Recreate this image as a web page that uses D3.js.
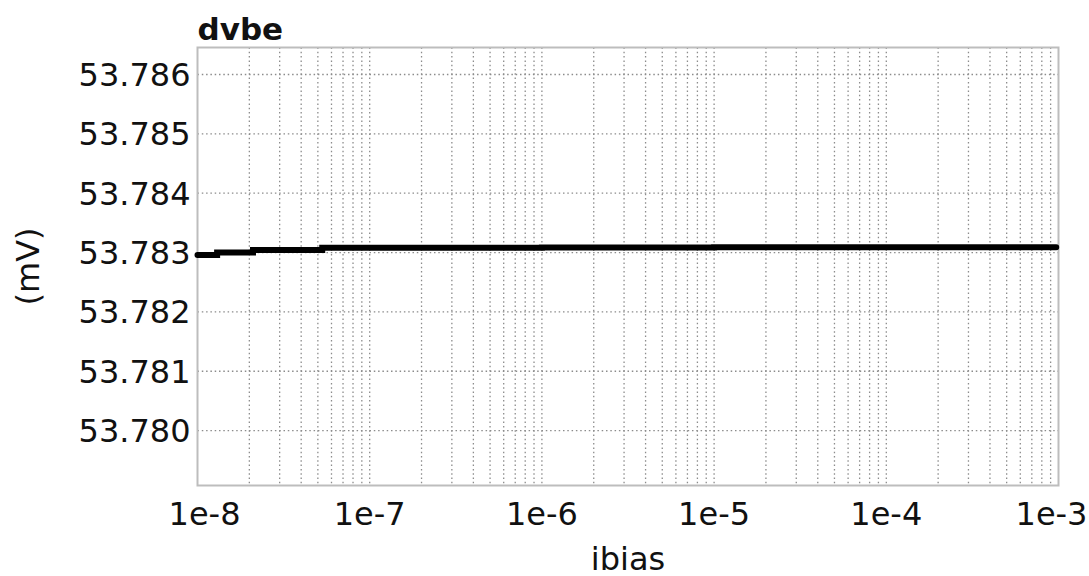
<!DOCTYPE html>
<html>
<head>
<meta charset="utf-8">
<script src="https://cdn.jsdelivr.net/npm/d3@7"></script>
<style>
  body { margin: 0; background: #fff; }
  text { font-family: "DejaVu Sans", sans-serif; fill: #111; }
  .grid line { stroke: #8c8c8c; stroke-width: 1.3; stroke-dasharray: 1.5,2.8; }
</style>
</head>
<body>
<svg id="chart"></svg>
<script>
//data
const ibias = [1e-8, 1.3e-8, 2.1e-8, 5.3e-8, 1e-7, 1e-6, 1e-5, 1e-4, 9.7e-4];
const dvbe = [53.78296, 53.78300, 53.783045, 53.78308, 53.78308, 53.783085, 53.783088, 53.78309, 53.78309];
const yTicks = [53.780, 53.781, 53.782, 53.783, 53.784, 53.785, 53.786];
const xTicks = [1e-8, 1e-7, 1e-6, 1e-5, 1e-4, 1e-3];
const xTickLabels = ["1e-8", "1e-7", "1e-6", "1e-5", "1e-4", "1e-3"];

//constants
const W = 1089, H = 576;
const margin = {top: 47.5, right: 30.5, bottom: 90.5, left: 197.5};
const width = W - margin.left - margin.right;
const height = H - margin.top - margin.bottom;
const fontSize = "32px";

const svg = d3.select("#chart")
    .attr("width", W)
    .attr("height", H);

const g = svg.append("g")
    .attr("transform", "translate(" + margin.left + "," + margin.top + ")");

//scales
const xScale = d3.scaleLog()
    .domain([1e-8, 1e-3])
    .range([0, width]);

const yScale = d3.scaleLinear()
    .domain([53.779075, 53.786455])
    .range([height, 0]);

//minor grid values (1..9 per decade)
let gridX = [];
for (let e = -8; e < -3; e++) {
    for (let m = 1; m < 10; m++) gridX.push(m * Math.pow(10, e));
}

//grid
g.append("g")
    .attr("class", "grid")
    .selectAll("line")
    .data(gridX.slice(1))
    .enter()
    .append("line")
    .attr("x1", d => xScale(d))
    .attr("x2", d => xScale(d))
    .attr("y1", 0)
    .attr("y2", height);

g.append("g")
    .attr("class", "grid")
    .selectAll("line")
    .data(yTicks)
    .enter()
    .append("line")
    .attr("x1", 0)
    .attr("x2", width)
    .attr("y1", d => yScale(d))
    .attr("y2", d => yScale(d));

//frame
g.append("rect")
    .attr("width", width)
    .attr("height", height)
    .style("fill", "none")
    .style("stroke", "#bdbdbd")
    .style("stroke-width", 2);

//tick labels
g.append("g")
    .selectAll("text")
    .data(yTicks)
    .enter()
    .append("text")
    .attr("x", -7)
    .attr("y", d => yScale(d))
    .attr("dy", "0.36em")
    .style("text-anchor", "end")
    .style("font-size", fontSize)
    .text(d => d3.format(".3f")(d));

g.append("g")
    .selectAll("text")
    .data(xTicks)
    .enter()
    .append("text")
    .attr("x", (d, i) => xScale(d) + (i === 0 ? 7 : i === xTicks.length - 1 ? -7 : 0))
    .attr("y", height + 39)
    .style("text-anchor", "middle")
    .style("font-size", fontSize)
    .text((d, i) => xTickLabels[i]);

//axis labels
g.append("text")
    .attr("x", width / 2)
    .attr("y", height + 84)
    .style("text-anchor", "middle")
    .style("font-size", fontSize)
    .text("ibias");

g.append("text")
    .attr("transform", "translate(" + (-margin.left + 39) + "," + (height / 2) + ") rotate(-90)")
    .style("text-anchor", "middle")
    .style("font-size", fontSize)
    .text("(mV)");

//title
g.append("text")
    .attr("x", 0)
    .attr("y", -8)
    .style("font-size", "31px")
    .style("font-weight", "bold")
    .text("dvbe");

//line
const line = d3.line()
    .x(d => xScale(d[0]))
    .y(d => yScale(d[1]))
    .curve(d3.curveStepAfter);

g.append("path")
    .datum(ibias.map((d, i) => [d, dvbe[i]]))
    .attr("d", line)
    .style("fill", "none")
    .style("stroke", "#000")
    .style("stroke-width", 6)
    .style("stroke-linecap", "round");
</script>
</body>
</html>
